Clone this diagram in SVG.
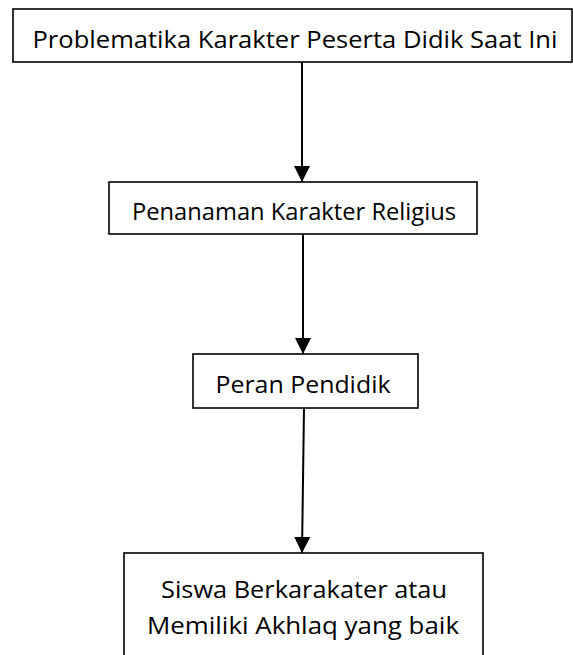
<svg xmlns="http://www.w3.org/2000/svg" width="573" height="655" viewBox="0 0 573 655">
<style>
.box{fill:#fff;stroke:#000;stroke-width:1.6}
.t{font-family:"Open Sans","Noto Sans","Liberation Sans",sans-serif;font-size:23px;fill:#000;text-anchor:middle}
.c{stroke:#000;stroke-width:2;fill:none}
</style>
<defs>
<marker id="ah" markerUnits="userSpaceOnUse" markerWidth="16" markerHeight="16" viewBox="0 0 16 16" refX="16" refY="8" orient="auto">
<path d="M0,0 L16,8 L0,16 Z" fill="#000"/>
</marker>
</defs>
<rect width="573" height="655" fill="#fff"/>
<g id="connectors">
<line class="c" x1="302" y1="62" x2="302" y2="182" marker-end="url(#ah)"/>
<line class="c" x1="303" y1="234" x2="303" y2="354" marker-end="url(#ah)"/>
<line class="c" x1="304" y1="408" x2="302" y2="553" marker-end="url(#ah)"/>
</g>
<g id="n1">
<rect class="box" x="13" y="9" width="559" height="53"/>
<text class="t" x="295" y="48" textLength="525" lengthAdjust="spacingAndGlyphs">Problematika Karakter Peserta Didik Saat Ini</text>
</g>
<g id="n2">
<rect class="box" x="109" y="182" width="368" height="52"/>
<text class="t" x="294" y="220" textLength="324" lengthAdjust="spacingAndGlyphs">Penanaman Karakter Religius</text>
</g>
<g id="n3">
<rect class="box" x="193" y="354" width="225" height="54"/>
<text class="t" x="303" y="393" textLength="175" lengthAdjust="spacingAndGlyphs">Peran Pendidik</text>
</g>
<g id="n4">
<rect class="box" x="124" y="553" width="359" height="110"/>
<text class="t" x="304" y="598" textLength="286" lengthAdjust="spacingAndGlyphs">Siswa Berkarakater atau</text>
<text class="t" x="303" y="634" textLength="312" lengthAdjust="spacingAndGlyphs">Memiliki Akhlaq yang baik</text>
</g>
</svg>
